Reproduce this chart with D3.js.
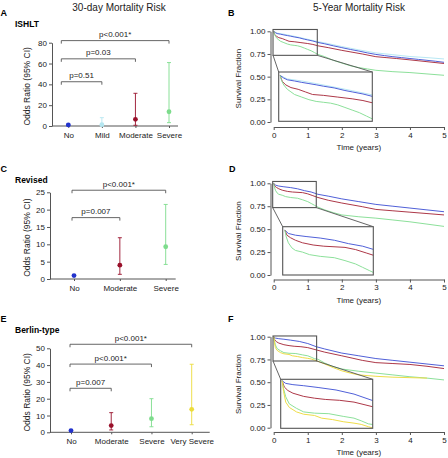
<!DOCTYPE html>
<html><head><meta charset="utf-8">
<script src="https://cdn.jsdelivr.net/npm/d3@7"></script>
<style>
html,body{margin:0;padding:0;background:#fff;}
svg{display:block;font-family:"Liberation Sans",Arial,sans-serif;}
</style></head>
<body>
<svg id="chart" width="448" height="458"></svg>
<script>
// ---------- DATA ----------
const colNo = "#2233cc", colMild = "#b5e6f0", colMod = "#99102a", colSev = "#7ddc8c", colVS = "#ecdc3a";
const curveCol = {No:"#5060d8", Mild:"#b8e8f4", Moderate:"#ad3848", Severe:"#8ce09a", "Very Severe":"#eedc48"};

// Panel A (ISHLT) odds ratios
const catsA = ["No","Mild","Moderate","Severe"];
const orA = [1.0, 1.3, 6.4, 13.7];
const loA = [0.5, 0.1, 0.7, 3.2];
const hiA = [1.6, 8.0, 31.4, 60.9];
const ticksA = [0,20,40,60,80];
const pLabelsA = ["p=0.51","p=0.03","p<0.001*"];
const pToA = ["Mild","Moderate","Severe"];
const pLevelA = [42.5, 64.5, 82];

// Panel C (Revised)
const catsC = ["No","Moderate","Severe"];
const orC = [1.0, 4.0, 9.3];
const loC = [0.85, 1.35, 4.2];
const hiC = [1.15, 11.9, 21.5];
const ticksC = [0,5,10,15,20,25];
const pLabelsC = ["p=0.007","p<0.001*"];
const pToC = ["Moderate","Severe"];
const pLevelC = [17.7, 25.6];

// Panel E (Berlin-type)
const catsE = ["No","Moderate","Severe","Very Severe"];
const orE = [1.0, 4.0, 8.1, 13.7];
const loE = [0.6, 1.4, 3.3, 4.5];
const hiE = [1.4, 11.7, 20.0, 40.5];
const ticksE = [0,10,20,30,40,50];
const pLabelsE = ["p=0.007","p<0.001*","p<0.001*"];
const pToE = ["Moderate","Severe","Very Severe"];
const pLevelE = [26.2, 40.6, 52.4];

// Survival ticks
const survTicks = [0,0.25,0.5,0.75,1.0];
const survTickLabels = ["0.00","0.25","0.50","0.75","1.00"];
const timeTicks = [0,1,2,3,4,5];
const timeTickLabels = ["0","1","2","3","4","5"];

// Panel B (ISHLT) survival curves
const tB_No = [0,0.05,0.1,0.2,0.3,0.4,0.5,0.6,0.75,0.9,1.0,1.15,1.3,1.5,1.75,2.0,2.25,2.5,2.75,3.0,3.25,3.5,3.75,4.0,4.25,4.5,4.75,5.0];
const sB_No = [1.0,0.985,0.975,0.968,0.96,0.953,0.946,0.938,0.928,0.913,0.905,0.893,0.877,0.862,0.84,0.82,0.80,0.782,0.762,0.745,0.732,0.72,0.71,0.70,0.69,0.68,0.67,0.658];
const tB_Mild = [0,0.1,0.3,0.5,0.75,1.0,1.3,1.5,2.0,2.5,3.0,3.5,4.0,4.5,5.0];
const sB_Mild = [1.0,0.98,0.968,0.953,0.933,0.912,0.886,0.872,0.832,0.795,0.762,0.742,0.722,0.71,0.695];
const tB_Mod = [0,0.03,0.08,0.15,0.25,0.35,0.45,0.6,0.8,1.0,1.15,1.3,1.6,2.0,2.3,2.6,3.0,3.3,3.6,4.0,4.5,5.0];
const sB_Mod = [1.0,0.965,0.945,0.93,0.92,0.905,0.89,0.885,0.875,0.865,0.855,0.84,0.82,0.79,0.77,0.75,0.72,0.71,0.70,0.685,0.665,0.645];
const tB_Sev = [0,0.02,0.05,0.1,0.15,0.2,0.3,0.4,0.5,0.6,0.7,0.8,0.9,1.0,1.1,1.2,1.3,1.5,1.75,2.0,2.25,2.5,2.75,3.0,3.5,4.0,4.5,5.0];
const sB_Sev = [1.0,0.97,0.945,0.92,0.905,0.89,0.875,0.86,0.85,0.845,0.84,0.83,0.815,0.80,0.785,0.765,0.745,0.72,0.68,0.65,0.62,0.60,0.585,0.57,0.555,0.545,0.53,0.515];

// Panel D (Revised)
const tD_No = [0,0.05,0.15,0.3,0.5,0.7,0.9,1.1,1.3,1.6,2.0,2.5,3.0,3.5,4.0,4.5,5.0];
const sD_No = [1.0,0.98,0.97,0.962,0.953,0.94,0.92,0.905,0.88,0.86,0.83,0.80,0.77,0.75,0.73,0.71,0.69];
const tD_Mod = [0,0.03,0.08,0.15,0.25,0.4,0.55,0.85,1.0,1.15,1.3,1.6,2.0,2.3,2.6,3.0,3.5,4.0,4.5,5.0];
const sD_Mod = [1.0,0.97,0.955,0.94,0.925,0.912,0.905,0.898,0.885,0.865,0.845,0.815,0.785,0.765,0.745,0.715,0.70,0.685,0.67,0.655];
const tD_Sev = [0,0.02,0.05,0.1,0.15,0.25,0.35,0.5,0.7,0.85,1.0,1.1,1.2,1.3,1.5,1.75,2.0,2.5,3.0,3.5,4.0,4.5,5.0];
const sD_Sev = [1.0,0.96,0.925,0.895,0.88,0.87,0.855,0.845,0.837,0.82,0.80,0.78,0.76,0.74,0.71,0.68,0.655,0.635,0.62,0.60,0.58,0.555,0.53];

// Panel F (Berlin-type)
const tF_No = [0,0.05,0.15,0.3,0.5,0.75,1.0,1.25,1.5,2.0,2.5,3.0,3.5,4.0,4.5,5.0];
const sF_No = [1.0,0.985,0.978,0.972,0.962,0.948,0.925,0.89,0.865,0.82,0.79,0.76,0.74,0.72,0.70,0.68];
const tF_Mod = [0,0.03,0.08,0.15,0.3,0.45,0.6,0.8,1.0,1.25,1.5,2.0,2.3,2.6,3.0,3.5,4.0,4.5,5.0];
const sF_Mod = [1.0,0.965,0.945,0.93,0.912,0.902,0.895,0.89,0.88,0.855,0.83,0.79,0.765,0.74,0.715,0.705,0.695,0.675,0.65];
const tF_Sev = [0,0.02,0.05,0.1,0.2,0.3,0.45,0.65,0.85,1.0,1.1,1.2,1.3,1.5,1.75,2.0,2.5,3.0,3.5,4.0,4.5,5.0];
const sF_Sev = [1.0,0.955,0.91,0.87,0.845,0.825,0.818,0.815,0.80,0.79,0.775,0.758,0.752,0.71,0.67,0.645,0.62,0.60,0.58,0.56,0.545,0.525];
const tF_VS = [0,0.02,0.05,0.1,0.2,0.3,0.45,0.55,0.7,0.85,1.0,1.1,1.2,1.3,1.5,1.75,2.0,2.25,2.5,3.0,3.5,4.0,4.5];
const sF_VS = [1.0,0.94,0.88,0.85,0.825,0.812,0.805,0.79,0.782,0.77,0.762,0.755,0.742,0.73,0.70,0.66,0.625,0.60,0.58,0.565,0.555,0.55,0.545];

// ---------- DRAW ----------
const svg = d3.select("#chart");
const axisCol = "#555";
const textCol = "#222";

function txt(x, y, s, size, opts = {}) {
  return svg.append("text").attr("x", x).attr("y", y).text(s)
    .attr("font-size", size).attr("fill", opts.fill || textCol)
    .attr("font-weight", opts.bold ? "bold" : "normal")
    .attr("text-anchor", opts.anchor || "start");
}

function styleAxis(a) {
  a.select(".domain").attr("stroke", axisCol);
  a.selectAll(".tick line").attr("stroke", axisCol);
  a.selectAll(".tick text").attr("font-size", 8).attr("fill", textCol).attr("font-family", "Liberation Sans, Arial");
}

function orPanel(cfg) {
  const x = d3.scalePoint().domain(cfg.cats).range(cfg.xr);
  const y = d3.scaleLinear().domain([0, d3.max(cfg.ticks)]).range(cfg.yr);
  const g = svg.append("g");
  const ya = g.append("g").attr("transform", `translate(${cfg.axX},0)`)
    .call(d3.axisLeft(y).tickValues(cfg.ticks).tickSize(3).tickPadding(2).tickSizeOuter(0));
  styleAxis(ya);
  const xa = g.append("g").attr("transform", `translate(0,${cfg.yr[0]})`)
    .call(d3.axisBottom(x).tickSize(2).tickPadding(4.5));
  xa.select(".domain").attr("d", `M${cfg.axX},0H${cfg.xr[1] + cfg.xEndPad}`);
  styleAxis(xa);
  svg.append("text").attr("transform", `translate(30,${(cfg.yr[0] + cfg.yr[1]) / 2 + 2}) rotate(-90)`)
    .attr("text-anchor", "middle").attr("font-size", 8.5).attr("fill", textCol).text("Odds Ratio (95% CI)");
  cfg.cats.forEach((c, i) => {
    const cx = x(c), col = cfg.colors[i];
    g.append("line").attr("x1", cx).attr("x2", cx).attr("y1", y(cfg.lo[i])).attr("y2", y(cfg.hi[i]))
      .attr("stroke", col).attr("stroke-width", 0.9);
    [cfg.lo[i], cfg.hi[i]].forEach(v => g.append("line").attr("x1", cx - 2).attr("x2", cx + 2)
      .attr("y1", y(v)).attr("y2", y(v)).attr("stroke", col).attr("stroke-width", 0.9));
    g.append("circle").attr("cx", cx).attr("cy", y(cfg.or[i])).attr("r", 2.4).attr("fill", col);
  });
  cfg.pLabels.forEach((lab, i) => {
    const x0 = x(cfg.cats[0]) - cfg.bracketOff, x1 = x(cfg.pTo[i]);
    const yy = y(cfg.pLevel[i]);
    g.append("path").attr("d", `M${x0},${yy + 3}V${yy}H${x1}V${yy + 3}`)
      .attr("fill", "none").attr("stroke", axisCol).attr("stroke-width", 0.9);
    txt((x0 + x1) / 2, yy - 3.5, lab, 8, { anchor: "middle" });
  });
}

function survPanel(cfg) {
  const x = d3.scaleLinear().domain([0, 5]).range(cfg.xr);
  const y = d3.scaleLinear().domain([0, 1]).range(cfg.yr);
  const g = svg.append("g");
  const ya = g.append("g").attr("transform", `translate(${cfg.axX},0)`)
    .call(d3.axisLeft(y).tickValues(survTicks).tickFormat((d, i) => survTickLabels[i]).tickSize(3).tickPadding(2).tickSizeOuter(0));
  styleAxis(ya);
  const xa = g.append("g").attr("transform", `translate(0,${cfg.axY})`)
    .call(d3.axisBottom(x).tickValues(timeTicks).tickFormat((d, i) => timeTickLabels[i]).tickSize(3).tickPadding(2).tickSizeOuter(0));
  styleAxis(xa);
  txt((cfg.xr[0] + cfg.xr[1]) / 2, cfg.axY + 23, "Time (years)", 8, { anchor: "middle" });
  svg.append("text").attr("transform", `translate(241,${(cfg.yr[0] + cfg.yr[1]) / 2 + 2}) rotate(-90)`)
    .attr("text-anchor", "middle").attr("font-size", 8).attr("fill", textCol).text("Survival Fraction");

  const line = d3.line().x(d => x(d[0])).y(d => y(d[1]));
  cfg.series.forEach(s => {
    const pts = s.t.map((t, i) => [t, s.s[i]]);
    g.append("path").attr("d", line(pts)).attr("fill", "none").attr("stroke", s.col).attr("stroke-width", 1);
  });
  const bx0 = x(cfg.boxT[0]), bx1 = x(cfg.boxT[1]), by0 = y(cfg.boxS[1]), by1 = y(cfg.boxS[0]);
  const ix0 = cfg.inset[0], ix1 = cfg.inset[1], iy0 = cfg.inset[2], iy1 = cfg.inset[3];
  g.append("line").attr("x1", bx0).attr("y1", by1).attr("x2", ix0).attr("y2", iy0).attr("stroke", axisCol).attr("stroke-width", 0.9);
  g.append("line").attr("x1", bx1).attr("y1", by1).attr("x2", ix1).attr("y2", iy0).attr("stroke", axisCol).attr("stroke-width", 0.9);
  g.append("rect").attr("x", bx0).attr("y", by0).attr("width", bx1 - bx0).attr("height", by1 - by0)
    .attr("fill", "none").attr("stroke", axisCol).attr("stroke-width", 1.1);
  const xi = d3.scaleLinear().domain(cfg.boxT).range([ix0, ix1]);
  const yi = d3.scaleLinear().domain(cfg.boxS).range([iy1, iy0]);
  const clipId = "clip" + cfg.id;
  svg.append("clipPath").attr("id", clipId).append("rect")
    .attr("x", ix0).attr("y", iy0).attr("width", ix1 - ix0).attr("height", iy1 - iy0);
  g.append("rect").attr("x", ix0).attr("y", iy0).attr("width", ix1 - ix0).attr("height", iy1 - iy0).attr("fill", "#fff");
  const li = d3.line().x(d => xi(d[0])).y(d => yi(d[1]));
  const gi = g.append("g").attr("clip-path", `url(#${clipId})`);
  cfg.series.forEach(s => {
    const pts = s.t.map((t, i) => [t, s.s[i]]);
    gi.append("path").attr("d", li(pts)).attr("fill", "none").attr("stroke", s.col).attr("stroke-width", 1);
  });
  g.append("rect").attr("x", ix0).attr("y", iy0).attr("width", ix1 - ix0).attr("height", iy1 - iy0)
    .attr("fill", "none").attr("stroke", axisCol).attr("stroke-width", 1.1);
}

txt(119, 10.5, "30-day Mortality Risk", 10, { anchor: "middle" });
txt(359, 10.5, "5-Year Mortality Risk", 10, { anchor: "middle" });
txt(0.5, 16, "A", 9, { bold: true, fill: "#000" });
txt(228, 16, "B", 9, { bold: true, fill: "#000" });
txt(0.5, 171.5, "C", 9, { bold: true, fill: "#000" });
txt(229, 171.5, "D", 9, { bold: true, fill: "#000" });
txt(0.5, 322, "E", 9, { bold: true, fill: "#000" });
txt(228, 322, "F", 9, { bold: true, fill: "#000" });
txt(15, 27, "ISHLT", 8.5, { bold: true, fill: "#000" });
txt(15, 182.5, "Revised", 8.5, { bold: true, fill: "#000" });
txt(15, 332.5, "Berlin-type", 8.5, { bold: true, fill: "#000" });

orPanel({ cats: catsA, or: orA, lo: loA, hi: hiA, ticks: ticksA, xr: [68.3, 169], yr: [126, 42.7], axX: 52, xEndPad: 9,
  colors: [colNo, colMild, colMod, colSev], pLabels: pLabelsA, pTo: pToA, pLevel: pLevelA, bracketOff: 7 });
orPanel({ cats: catsC, or: orC, lo: loC, hi: hiC, ticks: ticksC, xr: [74, 165.7], yr: [279, 192.3], axX: 50, xEndPad: 10,
  colors: [colNo, colMod, colSev], pLabels: pLabelsC, pTo: pToC, pLevel: pLevelC, bracketOff: 2 });
orPanel({ cats: catsE, or: orE, lo: loE, hi: hiE, ticks: ticksE, xr: [71, 191.7], yr: [432.3, 348.3], axX: 50, xEndPad: 18,
  colors: [colNo, colMod, colSev, colVS], pLabels: pLabelsE, pTo: pToE, pLevel: pLevelE, bracketOff: 1 });

survPanel({ id: "B", xr: [273.7, 444], yr: [122, 31.3], axX: 270.5, axY: 127,
  boxT: [-0.02, 1.28], boxS: [0.735, 1.02], inset: [278.7, 372.3, 72, 121.3],
  series: [
    { t: tB_Mild, s: sB_Mild, col: curveCol.Mild },
    { t: tB_No, s: sB_No, col: curveCol.No },
    { t: tB_Mod, s: sB_Mod, col: curveCol.Moderate },
    { t: tB_Sev, s: sB_Sev, col: curveCol.Severe }] });
survPanel({ id: "D", xr: [273.7, 444], yr: [275, 183.3], axX: 270.5, axY: 279.5,
  boxT: [-0.03, 1.25], boxS: [0.735, 1.02], inset: [282.7, 373.3, 226.7, 275],
  series: [
    { t: tD_No, s: sD_No, col: curveCol.No },
    { t: tD_Mod, s: sD_Mod, col: curveCol.Moderate },
    { t: tD_Sev, s: sD_Sev, col: curveCol.Severe }] });
survPanel({ id: "F", xr: [273.7, 444], yr: [427.7, 336.7], axX: 270.5, axY: 432,
  boxT: [-0.02, 1.26], boxS: [0.733, 1.008], inset: [280.7, 372.7, 379.3, 428.3],
  series: [
    { t: tF_No, s: sF_No, col: curveCol.No },
    { t: tF_Mod, s: sF_Mod, col: curveCol.Moderate },
    { t: tF_Sev, s: sF_Sev, col: curveCol.Severe },
    { t: tF_VS, s: sF_VS, col: curveCol["Very Severe"] }] });
</script>
</body></html>
